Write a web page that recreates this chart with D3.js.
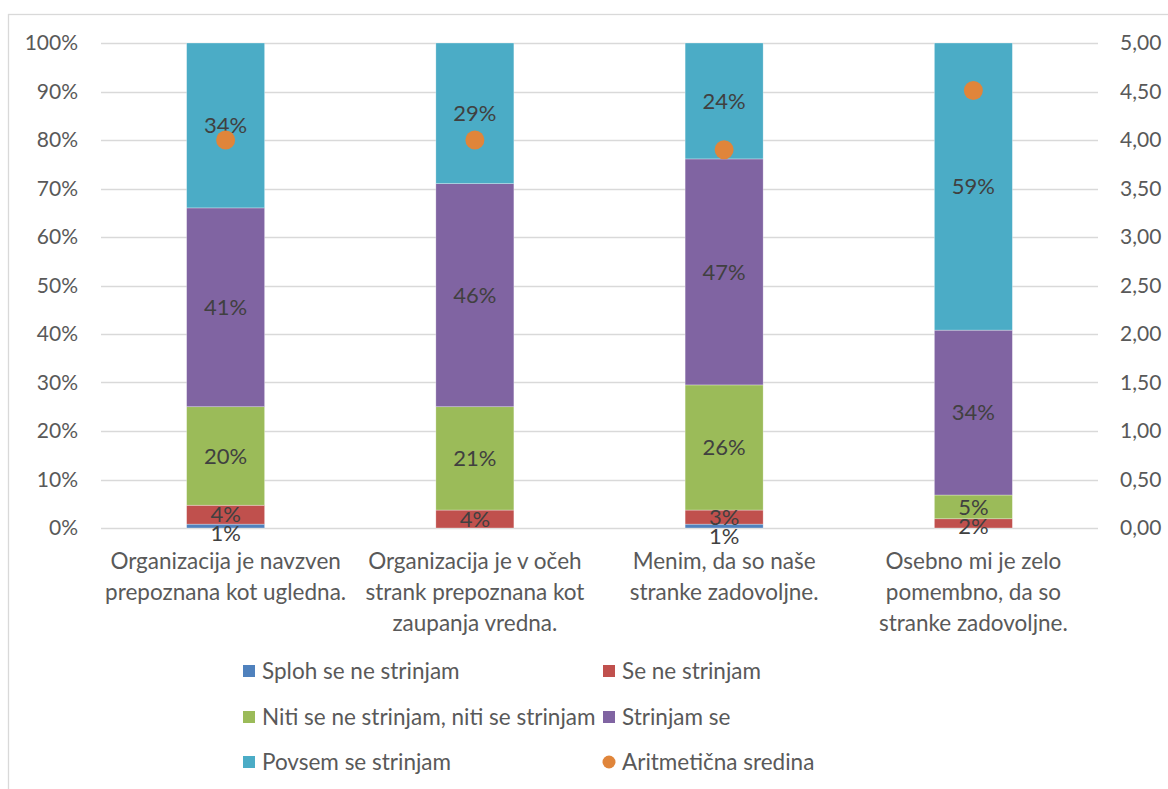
<!DOCTYPE html>
<html>
<head>
<meta charset="utf-8">
<script src="https://cdn.jsdelivr.net/npm/d3@7"></script>
<style>
  html, body { margin: 0; padding: 0; background: #fff; }
  svg { display: block; font-family: Lato, "Open Sans", sans-serif; }
</style>
</head>
<body>
<svg id="chart" width="1168" height="789"></svg>
<script>
// Categories (statements) and their wrapped label lines
const categories = ["c1", "c2", "c3", "c4"];
const categoryLines = [
  ["Organizacija je navzven", "prepoznana kot ugledna."],
  ["Organizacija je v očeh", "strank prepoznana kot", "zaupanja vredna."],
  ["Menim, da so naše", "stranke zadovoljne."],
  ["Osebno mi je zelo", "pomembno, da so", "stranke zadovoljne."]
];

// Answer shares (%) per category
const seriesNames = ["Sploh se ne strinjam", "Se ne strinjam", "Niti se ne strinjam, niti se strinjam", "Strinjam se", "Povsem se strinjam"];
const splohSeNe   = [0.8, 0.0, 0.8, 0.0];
const seNe        = [3.9, 3.7, 2.9, 1.9];
const niti        = [20.3, 21.3, 25.8, 4.9];
const strinjamSe  = [41.0, 46.0, 46.6, 34.0];
const povsem      = [34.0, 29.0, 23.9, 59.2];

// Arithmetic mean per category (right axis)
const meanName = "Aritmetična sredina";
const means = [4.0, 4.0, 3.9, 4.51];

// Axis tick values
const leftTicks = [0, 10, 20, 30, 40, 50, 60, 70, 80, 90, 100];
const rightTicks = [0, 0.5, 1, 1.5, 2, 2.5, 3, 3.5, 4, 4.5, 5];

const colors = ["#4F81BD", "#C0504D", "#9BBB59", "#8064A2", "#4BACC6"];
const meanColor = "#E0853A";
const textColor = "#595959";
const labelColor = "#404040";
const gridColor = "#D9D9D9";

const svg = d3.select("#chart");

// chart frame
svg.append("rect")
  .attr("x", 8.5).attr("y", 14.5)
  .attr("width", 1200).attr("height", 820)
  .attr("fill", "none").attr("stroke", gridColor).attr("stroke-width", 1.3);

const plot = { left: 101, right: 1098, top: 43, bottom: 528 };

const x = d3.scaleBand()
  .domain(categories)
  .range([plot.left, plot.right])
  .paddingInner(0.687)
  .paddingOuter(0.3435);

const y = d3.scaleLinear().domain([0, 100]).range([plot.bottom, plot.top]);
const yR = d3.scaleLinear().domain([0, 5]).range([plot.bottom, plot.top]);

// gridlines
svg.append("g").selectAll("line")
  .data(leftTicks)
  .join("line")
  .attr("x1", plot.left).attr("x2", plot.right)
  .attr("y1", d => Math.round(y(d)) + 0.5).attr("y2", d => Math.round(y(d)) + 0.5)
  .attr("stroke", gridColor).attr("stroke-width", 1.3);

// left axis labels
const fmtPct = d => d + "%";
const leftAxis = d3.axisLeft(y).tickValues(leftTicks).tickFormat(fmtPct).tickSize(0).tickPadding(0);
const gL = svg.append("g").attr("transform", "translate(78,0)").call(leftAxis);
gL.select(".domain").remove();
gL.selectAll("text").attr("fill", textColor).style("font-size", "21px").style("font-family", "Lato, sans-serif");

// right axis labels
const fmtComma = d => d3.format(".2f")(d).replace(".", ",");
const rightAxis = d3.axisRight(yR).tickValues(rightTicks).tickFormat(fmtComma).tickSize(0).tickPadding(0);
const gR = svg.append("g").attr("transform", "translate(1120,0)").call(rightAxis);
gR.select(".domain").remove();
gR.selectAll("text").attr("fill", textColor).style("font-size", "21px").style("font-family", "Lato, sans-serif");

// stacked data
const seriesValues = [splohSeNe, seNe, niti, strinjamSe, povsem];
const table = categories.map((c, i) => {
  const row = { cat: c };
  seriesNames.forEach((s, k) => { row[s] = seriesValues[k][i]; });
  return row;
});
const stacked = d3.stack().keys(seriesNames)(table);

const barsG = svg.append("g");
stacked.forEach((layer, k) => {
  barsG.append("g").attr("fill", colors[k])
    .selectAll("rect")
    .data(layer)
    .join("rect")
    .attr("x", d => x(d.data.cat))
    .attr("width", x.bandwidth())
    .attr("y", d => y(d[1]))
    .attr("height", d => Math.max(0, y(d[0]) - y(d[1])))
    .attr("stroke", "#ffffff").attr("stroke-opacity", 0.5).attr("stroke-width", 0.6);
});

// data labels: centred in segment, pushed down when too close to the label above
const labelsG = svg.append("g");
categories.forEach((c, i) => {
  let prevY = -Infinity;
  for (let k = seriesNames.length - 1; k >= 0; k--) {
    const v = seriesValues[k][i];
    if (v <= 0) continue;
    const seg = stacked[k][i];
    let cy = (y(seg[0]) + y(seg[1])) / 2;
    cy = Math.max(cy, prevY + 19);
    prevY = cy;
    labelsG.append("text")
      .attr("x", x(c) + x.bandwidth() / 2)
      .attr("y", cy)
      .attr("dy", "0.35em")
      .attr("text-anchor", "middle")
      .attr("fill", labelColor)
      .style("font-size", "22px")
      .text(Math.round(v) + "%");
  }
});

// mean markers
svg.append("g").selectAll("circle")
  .data(means)
  .join("circle")
  .attr("cx", (d, i) => x(categories[i]) + x.bandwidth() / 2)
  .attr("cy", d => yR(d))
  .attr("r", 9.5)
  .attr("fill", meanColor);

// category labels
const catG = svg.append("g");
categories.forEach((c, i) => {
  const t = catG.append("text")
    .attr("x", x(c) + x.bandwidth() / 2)
    .attr("y", 569)
    .attr("text-anchor", "middle")
    .attr("fill", textColor)
    .style("font-size", "22.5px");
  categoryLines[i].forEach((line, j) => {
    t.append("tspan")
      .attr("x", x(c) + x.bandwidth() / 2)
      .attr("dy", j === 0 ? 0 : 31)
      .text(line);
  });
});

// legend
const legendItems = seriesNames.map((s, k) => ({ name: s, color: colors[k], type: "rect" }))
  .concat([{ name: meanName, color: meanColor, type: "circle" }]);
const legCols = [243, 603];
const legRows = [671, 717, 762];
const legG = svg.append("g");
legendItems.forEach((it, idx) => {
  const lx = legCols[idx % 2];
  const ly = legRows[Math.floor(idx / 2)];
  if (it.type === "rect") {
    legG.append("rect").attr("x", lx).attr("y", ly - 6).attr("width", 12).attr("height", 12).attr("fill", it.color);
  } else {
    legG.append("circle").attr("cx", lx + 6).attr("cy", ly).attr("r", 6.5).attr("fill", it.color);
  }
  legG.append("text")
    .attr("x", lx + 19).attr("y", ly).attr("dy", "0.35em")
    .attr("fill", textColor)
    .style("font-size", "22.5px")
    .text(it.name);
});
</script>
</body>
</html>
